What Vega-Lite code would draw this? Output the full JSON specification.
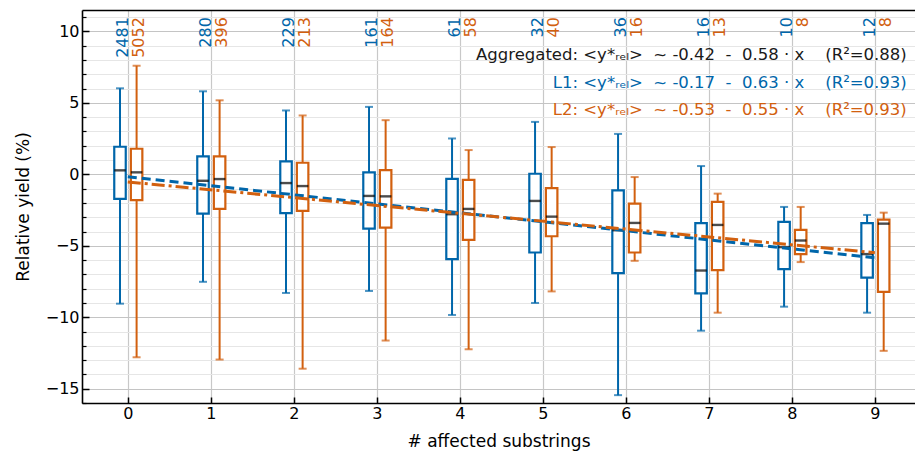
{
  "$schema": "https://vega.github.io/schema/vega-lite/v6.json",
  "width": 833,
  "height": 393,
  "autosize": {"type": "none"},
  "padding": {"left": 82, "top": 10, "right": 0, "bottom": 57},
  "config": {
    "font": "DejaVu Sans",
    "view": {"stroke": null},
    "axis": {"labelColor": "black", "titleColor": "black", "tickColor": "black", "domainColor": "black", "domainWidth": 1.6}
  },
  "resolve": {"axis": {"y": "independent", "x": "independent"}},
  "data": {
    "values": [
      {"n": 0, "series": "L1", "lo": -9.05, "q1": -1.72, "med": 0.28, "q3": 1.93, "hi": 6.02, "count": 2481},
      {"n": 1, "series": "L1", "lo": -7.52, "q1": -2.75, "med": -0.45, "q3": 1.26, "hi": 5.81, "count": 280},
      {"n": 2, "series": "L1", "lo": -8.3, "q1": -2.72, "med": -0.61, "q3": 0.91, "hi": 4.47, "count": 229},
      {"n": 3, "series": "L1", "lo": -8.16, "q1": -3.8, "med": -1.51, "q3": 0.14, "hi": 4.72, "count": 161},
      {"n": 4, "series": "L1", "lo": -9.84, "q1": -5.93, "med": -2.79, "q3": -0.31, "hi": 2.51, "count": 61},
      {"n": 5, "series": "L1", "lo": -9.0, "q1": -5.47, "med": -1.86, "q3": 0.04, "hi": 3.67, "count": 32},
      {"n": 6, "series": "L1", "lo": -15.45, "q1": -6.91, "med": -3.91, "q3": -1.12, "hi": 2.83, "count": 36},
      {"n": 7, "series": "L1", "lo": -10.94, "q1": -8.33, "med": -6.73, "q3": -3.42, "hi": 0.58, "count": 16},
      {"n": 8, "series": "L1", "lo": -9.26, "q1": -6.63, "med": -5.09, "q3": -3.33, "hi": -2.28, "count": 10},
      {"n": 9, "series": "L1", "lo": -9.68, "q1": -7.22, "med": -5.58, "q3": -3.42, "hi": -2.84, "count": 12},
      {"n": 0, "series": "L2", "lo": -12.8, "q1": -1.81, "med": 0.14, "q3": 1.79, "hi": 7.6, "count": 5052},
      {"n": 1, "series": "L2", "lo": -12.96, "q1": -2.42, "med": -0.33, "q3": 1.26, "hi": 5.18, "count": 396},
      {"n": 2, "series": "L2", "lo": -13.6, "q1": -2.56, "med": -0.82, "q3": 0.81, "hi": 4.12, "count": 213},
      {"n": 3, "series": "L2", "lo": -11.63, "q1": -3.73, "med": -1.54, "q3": 0.3, "hi": 3.79, "count": 164},
      {"n": 4, "series": "L2", "lo": -12.24, "q1": -4.58, "med": -2.42, "q3": -0.38, "hi": 1.7, "count": 58},
      {"n": 5, "series": "L2", "lo": -8.19, "q1": -4.33, "med": -2.96, "q3": -0.96, "hi": 1.91, "count": 40},
      {"n": 6, "series": "L2", "lo": -6.05, "q1": -5.47, "med": -3.4, "q3": -2.05, "hi": -0.19, "count": 16},
      {"n": 7, "series": "L2", "lo": -9.68, "q1": -6.7, "med": -3.54, "q3": -1.93, "hi": -1.35, "count": 13},
      {"n": 8, "series": "L2", "lo": -6.14, "q1": -5.58, "med": -4.63, "q3": -3.89, "hi": -2.28, "count": 8},
      {"n": 9, "series": "L2", "lo": -12.35, "q1": -8.23, "med": -3.45, "q3": -3.17, "hi": -2.68, "count": 8}
    ]
  },
  "layer": [
    {
      "transform": [{"filter": "datum.series === 'L1'"}],
      "mark": {"type": "rule", "color": "#0066AA", "strokeWidth": 2, "xOffset": -7.8},
      "encoding": {
        "x": {"field": "n", "type": "quantitative", "scale": {"domain": [-0.4915, 9.423], "nice": false, "zero": false},
          "axis": {"values": [0, 1, 2, 3, 4, 5, 6, 7, 8, 9], "format": "d", "tickSize": -6, "tickWidth": 1.5, "labelFontSize": 16, "labelPadding": 8, "title": "# affected substrings", "titleFontSize": 17, "titleFontWeight": "normal", "titlePadding": 12, "grid": true, "gridColor": "#c8c8c8", "gridWidth": 1.2, "domain": true, "orient": "bottom"}},
        "y": {"field": "lo", "type": "quantitative", "scale": {"domain": [-16, 11.5], "nice": false, "zero": false},
          "axis": {"values": [-16, -14, -13, -12, -11, -9, -8, -7, -6, -4, -3, -2, -1, 1, 2, 3, 4, 6, 7, 8, 9, 11], "labels": false, "tickSize": -4, "tickWidth": 1.2, "grid": true, "gridColor": "#e6e6e6", "gridWidth": 1, "domain": false, "title": null, "orient": "left"}},
        "y2": {"field": "hi"}
      }
    },
    {
      "transform": [{"filter": "datum.series === 'L2'"}],
      "mark": {"type": "rule", "color": "#D2600F", "strokeWidth": 2, "xOffset": 8.8},
      "encoding": {
        "x": {"field": "n", "type": "quantitative",
          "axis": {"orient": "top", "labels": false, "ticks": false, "grid": false, "domain": true, "title": null}},
        "y": {"field": "lo", "type": "quantitative",
          "axis": {"values": [-15, -10, -5, 0, 5, 10], "tickSize": -7, "tickWidth": 1.5, "grid": true, "gridColor": "#c4c4c4", "gridWidth": 1.2, "labelFontSize": 16, "labelPadding": 10, "title": "Relative yield (%)", "titleFontSize": 17, "titleFontWeight": "normal", "titlePadding": 13, "domain": true, "orient": "left"}},
        "y2": {"field": "hi"}
      }
    },
    {
      "transform": [{"filter": "datum.series === 'L1'"}, {"fold": ["lo", "hi"], "as": ["k", "v"]}],
      "mark": {"type": "tick", "orient": "horizontal", "color": "#0066AA", "size": 8, "thickness": 2, "xOffset": -7.8},
      "encoding": {
        "x": {"field": "n", "type": "quantitative", "axis": null},
        "y": {"field": "v", "type": "quantitative", "axis": null}
      }
    },
    {
      "transform": [{"filter": "datum.series === 'L2'"}, {"fold": ["lo", "hi"], "as": ["k", "v"]}],
      "mark": {"type": "tick", "orient": "horizontal", "color": "#D2600F", "size": 8, "thickness": 2, "xOffset": 8.8},
      "encoding": {
        "x": {"field": "n", "type": "quantitative", "axis": null},
        "y": {"field": "v", "type": "quantitative", "axis": null}
      }
    },
    {
      "transform": [{"filter": "datum.series === 'L1'"}],
      "mark": {"type": "bar", "fill": "white", "stroke": "#0066AA", "strokeWidth": 2.2, "width": 11.5, "xOffset": -7.8},
      "encoding": {
        "x": {"field": "n", "type": "quantitative", "axis": null},
        "y": {"field": "q1", "type": "quantitative", "axis": null},
        "y2": {"field": "q3"}
      }
    },
    {
      "transform": [{"filter": "datum.series === 'L2'"}],
      "mark": {"type": "bar", "fill": "white", "stroke": "#D2600F", "strokeWidth": 2.2, "width": 11.5, "xOffset": 8.8},
      "encoding": {
        "x": {"field": "n", "type": "quantitative", "axis": null},
        "y": {"field": "q1", "type": "quantitative", "axis": null},
        "y2": {"field": "q3"}
      }
    },
    {
      "transform": [{"filter": "datum.series === 'L1'"}],
      "mark": {"type": "tick", "orient": "horizontal", "color": "black", "size": 11.5, "thickness": 2.4, "xOffset": -7.8},
      "encoding": {
        "x": {"field": "n", "type": "quantitative", "axis": null},
        "y": {"field": "med", "type": "quantitative", "axis": null}
      }
    },
    {
      "transform": [{"filter": "datum.series === 'L2'"}],
      "mark": {"type": "tick", "orient": "horizontal", "color": "black", "size": 11.5, "thickness": 2.4, "xOffset": 8.8},
      "encoding": {
        "x": {"field": "n", "type": "quantitative", "axis": null},
        "y": {"field": "med", "type": "quantitative", "axis": null}
      }
    },
    {
      "data": {"values": [
        {"series": "L1", "n": 0, "fit": -0.17},
        {"series": "L1", "n": 9, "fit": -5.84},
        {"series": "L2", "n": 0, "fit": -0.53},
        {"series": "L2", "n": 9, "fit": -5.48}
      ]},
      "mark": {"type": "line", "strokeWidth": 3},
      "encoding": {
        "x": {"field": "n", "type": "quantitative", "axis": null},
        "y": {"field": "fit", "type": "quantitative", "axis": null},
        "color": {"field": "series", "type": "nominal", "scale": {"domain": ["L1", "L2"], "range": ["#0066AA", "#D2600F"]}, "legend": null},
        "strokeDash": {"field": "series", "type": "nominal", "scale": {"domain": ["L1", "L2"], "range": [[9, 5], [13, 4, 3, 4]]}, "legend": null}
      }
    },
    {
      "transform": [{"filter": "datum.series === 'L1'"}],
      "mark": {"type": "text", "angle": 270, "align": "right", "baseline": "alphabetic", "fontSize": 16, "color": "#0066AA"},
      "encoding": {
        "x": {"field": "n", "type": "quantitative", "axis": null},
        "y": {"datum": 11.0, "type": "quantitative", "axis": null},
        "text": {"field": "count", "type": "nominal"}
      }
    },
    {
      "transform": [{"filter": "datum.series === 'L2'"}],
      "mark": {"type": "text", "angle": 270, "align": "right", "baseline": "top", "fontSize": 16, "color": "#D2600F", "dy": 3},
      "encoding": {
        "x": {"field": "n", "type": "quantitative", "axis": null},
        "y": {"datum": 11.0, "type": "quantitative", "axis": null},
        "text": {"field": "count", "type": "nominal"}
      }
    },
    {
      "data": {"values": [{"t": "Aggregated: <y*ᵣₑₗ>\u00a0\u00a0~\u00a0-0.42\u00a0\u00a0-\u00a0\u00a00.58\u00a0·\u00a0x\u00a0\u00a0\u00a0\u00a0(R²=0.88)"}]},
      "mark": {"type": "text", "align": "right", "baseline": "alphabetic", "fontSize": 16.5, "color": "#1a1a1a"},
      "encoding": {
        "x": {"datum": 9.384, "type": "quantitative", "axis": null},
        "y": {"datum": 7.98, "type": "quantitative", "axis": null},
        "text": {"field": "t", "type": "nominal"}
      }
    },
    {
      "data": {"values": [{"t": "L1: <y*ᵣₑₗ>\u00a0\u00a0~\u00a0-0.17\u00a0\u00a0-\u00a0\u00a00.63\u00a0·\u00a0x\u00a0\u00a0\u00a0\u00a0(R²=0.93)"}]},
      "mark": {"type": "text", "align": "right", "baseline": "alphabetic", "fontSize": 16.5, "color": "#0066AA"},
      "encoding": {
        "x": {"datum": 9.384, "type": "quantitative", "axis": null},
        "y": {"datum": 6.03, "type": "quantitative", "axis": null},
        "text": {"field": "t", "type": "nominal"}
      }
    },
    {
      "data": {"values": [{"t": "L2: <y*ᵣₑₗ>\u00a0\u00a0~\u00a0-0.53\u00a0\u00a0-\u00a0\u00a00.55\u00a0·\u00a0x\u00a0\u00a0\u00a0\u00a0(R²=0.93)"}]},
      "mark": {"type": "text", "align": "right", "baseline": "alphabetic", "fontSize": 16.5, "color": "#D2600F"},
      "encoding": {
        "x": {"datum": 9.384, "type": "quantitative", "axis": null},
        "y": {"datum": 4.14, "type": "quantitative", "axis": null},
        "text": {"field": "t", "type": "nominal"}
      }
    }
  ]
}
